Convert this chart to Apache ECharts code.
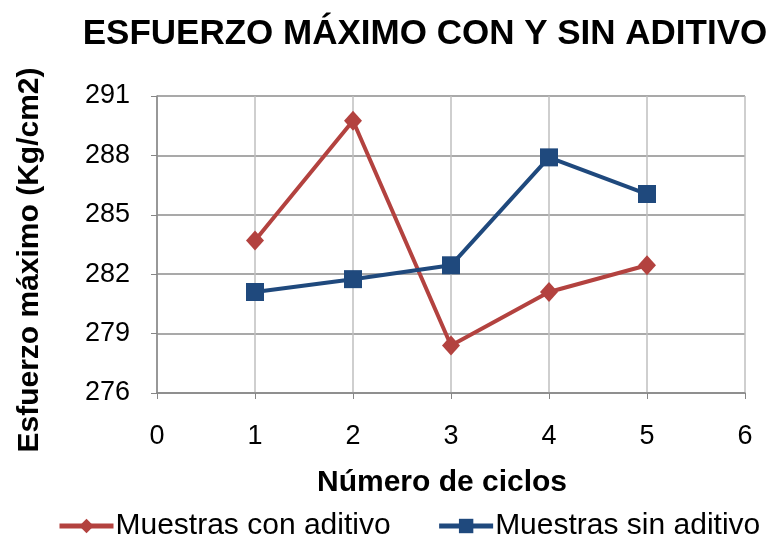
<!DOCTYPE html>
<html><head><meta charset="utf-8">
<script src="https://cdn.jsdelivr.net/npm/echarts@6/dist/echarts.min.js"></script>
<style>html,body{margin:0;padding:0;background:#fff}#c{width:766px;height:540px}</style>
</head><body><div id="c"></div>
<script>
const ciclos = [1, 2, 3, 4, 5];
const conAditivo = [283.7, 289.75, 278.4, 281.1, 282.45];
const sinAditivo = [281.1, 281.75, 282.45, 287.9, 286.05];
const yTicks = [276, 279, 282, 285, 288, 291];

const chart = echarts.init(document.getElementById('c'));
const font = 'Liberation Sans, Arial, sans-serif';
chart.setOption({
  animation: false,
  title: {text: 'ESFUERZO MÁXIMO CON Y SIN ADITIVO', left: 420, top: 12, textAlign: 'center',
    textStyle: {fontFamily: font, fontSize: 35, fontWeight: 'bold', color: '#000'}},
  grid: {left: 157, right: 21, top: 96, bottom: 147},
  legend: {top: 506, left: 52, itemWidth: 54, itemHeight: 18, itemGap: 46,
    lineStyle: {width: 5},
    textStyle: {fontFamily: font, fontSize: 30, color: '#000', padding: [0,0,0,-3]},
    data: ['Muestras con aditivo', 'Muestras sin aditivo']},
  xAxis: {type: 'value', min: 0, max: 6, interval: 1,
    name: 'Número de ciclos', nameLocation: 'middle', nameGap: 75,
    nameTextStyle: {fontFamily: font, fontSize: 30, fontWeight: 'bold', color: '#000', padding: [0, 18, 0, 0]},
    axisLine: {lineStyle: {color: '#868686', width: 1.5}},
    axisTick: {show: true, length: 6, lineStyle: {color: '#868686'}},
    axisLabel: {fontFamily: font, fontSize: 27, color: '#000', margin: 30},
    splitLine: {show: true, lineStyle: {color: '#BFBFBF', width: 1.5}}},
  yAxis: {type: 'value', min: yTicks[0], max: yTicks[yTicks.length-1], interval: 3,
    name: 'Esfuerzo máximo (Kg/cm2)', nameLocation: 'middle', nameGap: 112,
    nameTextStyle: {fontFamily: font, fontSize: 30, fontWeight: 'bold', color: '#000', padding: [0, 31, 0, 0]},
    axisLine: {show: true, lineStyle: {color: '#868686', width: 1.5}},
    axisTick: {show: true, length: 6, lineStyle: {color: '#868686'}},
    axisLabel: {fontFamily: font, fontSize: 27, color: '#000', margin: 27},
    splitLine: {show: true, lineStyle: {color: '#8C8C8C', width: 1.5}}},
  series: [
    {name: 'Muestras con aditivo', type: 'line', data: ciclos.map((c,i)=>[c, conAditivo[i]]),
      symbol: 'diamond', symbolSize: [18, 20], color: '#B3423F', lineStyle: {width: 4, color: '#B3423F'},
      itemStyle: {color: '#B3423F'}},
    {name: 'Muestras sin aditivo', type: 'line', data: ciclos.map((c,i)=>[c, sinAditivo[i]]),
      symbol: 'rect', symbolSize: 18, color: '#1F497D', lineStyle: {width: 4, color: '#1F497D'},
      itemStyle: {color: '#1F497D'}}
  ]
});
</script></body></html>
